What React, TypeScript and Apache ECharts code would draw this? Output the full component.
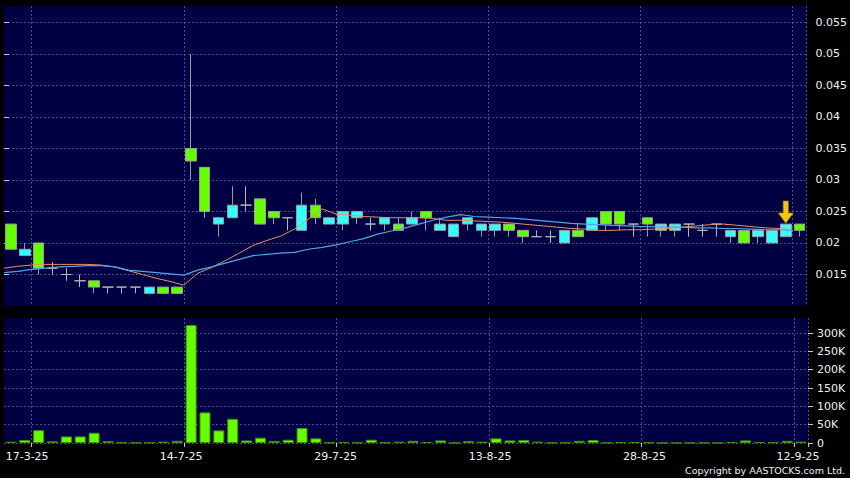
import React, { useEffect, useRef } from "react";
import * as echarts from "echarts";

const dates = [
  "12-3-25", "14-3-25", "17-3-25", "21-3-25", "28-3-25", "9-4-25", "24-4-25", "9-5-25", "23-5-25", "10-6-25",
  "20-6-25", "30-6-25", "8-7-25", "14-7-25", "15-7-25", "16-7-25", "17-7-25", "18-7-25", "21-7-25", "22-7-25",
  "23-7-25", "24-7-25", "25-7-25", "28-7-25", "29-7-25", "30-7-25", "31-7-25", "1-8-25", "4-8-25", "5-8-25",
  "6-8-25", "7-8-25", "8-8-25", "11-8-25", "12-8-25", "13-8-25", "14-8-25", "15-8-25", "18-8-25", "19-8-25",
  "20-8-25", "21-8-25", "22-8-25", "25-8-25", "26-8-25", "27-8-25", "28-8-25", "29-8-25", "1-9-25", "2-9-25",
  "3-9-25", "4-9-25", "5-9-25", "8-9-25", "9-9-25", "10-9-25", "11-9-25", "12-9-25",
];

const opens = [
  0.023, 0.018, 0.020, 0.016, 0.015, 0.014, 0.014, 0.013, 0.013, 0.013,
  0.012, 0.013, 0.013, 0.035, 0.032, 0.023, 0.024, 0.026, 0.027, 0.025,
  0.024, 0.022, 0.026, 0.023, 0.023, 0.024, 0.023, 0.023, 0.023, 0.023,
  0.025, 0.022, 0.021, 0.023, 0.022, 0.022, 0.023, 0.022, 0.021, 0.021,
  0.020, 0.022, 0.022, 0.025, 0.025, 0.023, 0.024, 0.022, 0.022, 0.023,
  0.022, 0.023, 0.021, 0.022, 0.021, 0.020, 0.021, 0.023,
];
const closes = [
  0.019, 0.019, 0.016, 0.016, 0.015, 0.014, 0.013, 0.013, 0.013, 0.013,
  0.013, 0.012, 0.012, 0.033, 0.025, 0.024, 0.026, 0.026, 0.023, 0.024,
  0.024, 0.026, 0.024, 0.024, 0.025, 0.025, 0.023, 0.024, 0.022, 0.024,
  0.024, 0.023, 0.023, 0.024, 0.023, 0.023, 0.022, 0.021, 0.021, 0.021,
  0.022, 0.021, 0.024, 0.023, 0.023, 0.023, 0.023, 0.023, 0.023, 0.023,
  0.022, 0.023, 0.022, 0.020, 0.022, 0.022, 0.023, 0.022,
];
const lows = [
  0.019, 0.018, 0.015, 0.015, 0.014, 0.013, 0.012, 0.012, 0.012, 0.012,
  0.012, 0.012, 0.012, 0.030, 0.024, 0.021, 0.024, 0.025, 0.023, 0.023,
  0.022, 0.022, 0.023, 0.023, 0.022, 0.023, 0.022, 0.022, 0.022, 0.023,
  0.022, 0.022, 0.021, 0.022, 0.021, 0.021, 0.021, 0.020, 0.021, 0.020,
  0.020, 0.021, 0.022, 0.022, 0.022, 0.021, 0.021, 0.021, 0.021, 0.021,
  0.021, 0.021, 0.020, 0.020, 0.020, 0.020, 0.021, 0.021,
];
const highs = [
  0.023, 0.020, 0.020, 0.017, 0.016, 0.015, 0.014, 0.013, 0.013, 0.013,
  0.013, 0.013, 0.013, 0.050, 0.032, 0.024, 0.029, 0.029, 0.027, 0.025,
  0.024, 0.028, 0.027, 0.024, 0.025, 0.025, 0.024, 0.024, 0.024, 0.025,
  0.025, 0.024, 0.023, 0.024, 0.023, 0.023, 0.023, 0.022, 0.022, 0.022,
  0.022, 0.023, 0.024, 0.025, 0.025, 0.023, 0.024, 0.023, 0.023, 0.023,
  0.023, 0.023, 0.022, 0.022, 0.022, 0.022, 0.023, 0.023,
];
const volumes = [
  3500, 8000, 35000, 4500, 18000, 18000, 28000, 5400, 1000, 1000,
  1500, 3600, 6000, 322000, 83600, 34500, 66000, 7000, 14500, 5400,
  9000, 41000, 12700, 1000, 2700, 1000, 9000, 1500, 3600, 6000,
  2700, 7000, 500, 5400, 3600, 12700, 7000, 8000, 3600, 1000,
  1000, 6000, 8000, 1000, 2500, 2500, 1500, 300, 300, 300,
  300, 300, 2700, 7000, 2700, 2000, 6000, 3600,
];
const maShort = [
  0.0160, 0.0163, 0.0165, 0.0166, 0.0166, 0.0166, 0.0166, 0.0165, 0.0162, 0.0156,
  0.0150, 0.0144, 0.0139, 0.0133, 0.0152, 0.0161, 0.0172, 0.0184, 0.0196, 0.0204,
  0.0211, 0.0222, 0.0238, 0.0254, 0.0246, 0.0244, 0.0242, 0.0241, 0.0240, 0.0240,
  0.0240, 0.0239, 0.0236, 0.0236, 0.0235, 0.0234, 0.0233, 0.0231, 0.0229, 0.0227,
  0.0225, 0.0223, 0.0222, 0.0220, 0.0220, 0.0221, 0.0221, 0.0222, 0.0223, 0.0225,
  0.0227, 0.0229, 0.0230, 0.0228, 0.0226, 0.0224, 0.0223, 0.0221,
];
const maLong = [
  0.0153, 0.0155, 0.0158, 0.0160, 0.0162, 0.0163, 0.0164, 0.0164, 0.0162, 0.0157,
  0.0155, 0.0153, 0.0151, 0.0149, 0.0157, 0.0162, 0.0168, 0.0174, 0.0180, 0.0182,
  0.0184, 0.0185, 0.0190, 0.0193, 0.0197, 0.0202, 0.0207, 0.0214, 0.0219, 0.0224,
  0.0230, 0.0236, 0.0241, 0.0245, 0.0242, 0.0241, 0.0240, 0.0239, 0.0237, 0.0235,
  0.0233, 0.0231, 0.0230, 0.0229, 0.0228, 0.0227, 0.0226, 0.0226, 0.0225, 0.0225,
  0.0224, 0.0224, 0.0223, 0.0223, 0.0222, 0.0221, 0.0221, 0.0220,
];
const priceTicks = [0.015, 0.02, 0.025, 0.03, 0.035, 0.04, 0.045, 0.05, 0.055];
const volumeTicks = [0, 50000, 100000, 150000, 200000, 250000, 300000];
const labelShift = [23, 20, 16, 12, 8, 6];
const arrowIndex = 56;
const copyright = "Copyright by AASTOCKS.com Ltd.";

const FONT = "DejaVu Sans";
const TEXT = "#f0f0f0";
const GRIDLINE = { color: "#4e4e86", type: [2, 2] as number[], width: 1 };
const PANEL = "#000042";

export default function App() {
  const ref = useRef<HTMLDivElement>(null);

  useEffect(() => {
    if (!ref.current) return;
    document.body.style.margin = "0";
    document.body.style.background = "#000";
    const chart = echarts.init(ref.current, undefined, { renderer: "svg" });

    const isMark = (i: number) => i % 11 === 2;
    const rich: Record<string, any> = {};
    labelShift.forEach((p, k) => {
      rich["s" + k] = { padding: [0, p, 0, 0], color: TEXT, fontSize: 11, fontFamily: FONT };
    });

    const option: any = {
      animation: false,
      backgroundColor: "#000",
      grid: [
        { left: 4, right: 42, top: 6, height: 300, show: true, backgroundColor: PANEL, borderWidth: 0 },
        { left: 4, right: 42, top: 318, height: 125, show: true, backgroundColor: PANEL, borderWidth: 0 },
      ],
      xAxis: [
        {
          type: "category", gridIndex: 0, data: dates, boundaryGap: true,
          axisLine: { show: false }, axisTick: { show: false }, axisLabel: { show: false },
          splitLine: { show: true, interval: isMark, lineStyle: GRIDLINE },
        },
        {
          type: "category", gridIndex: 1, data: dates, boundaryGap: true,
          axisLine: { show: false },
          axisTick: { show: true, interval: isMark, length: 4, lineStyle: { color: "#c8c8c8" } },
          axisLabel: {
            show: true, interval: isMark, color: TEXT, fontSize: 11, fontFamily: FONT, margin: 8,
            formatter: (v: string, i: number) => (isMark(i) ? `{s${Math.round((i - 2) / 11)}|${v}}` : ""),
            rich,
          },
          splitLine: { show: true, interval: isMark, lineStyle: GRIDLINE },
        },
        { type: "value", gridIndex: 0, min: 0, max: dates.length, show: false },
      ],
      yAxis: [
        {
          type: "value", gridIndex: 0, position: "right", min: 0.01, max: 0.0576, interval: 0.005,
          axisLine: { show: false },
          axisTick: { show: true, length: 5, lineStyle: { color: "#c8c8c8" }, customValues: priceTicks },
          axisLabel: { color: TEXT, fontSize: 11, fontFamily: FONT, margin: 9, customValues: priceTicks },
          splitLine: { show: true, lineStyle: GRIDLINE },
        },
        {
          type: "value", gridIndex: 1, position: "right", min: 0, max: 341000, interval: 50000,
          axisLine: { show: false },
          axisTick: { show: true, length: 5, lineStyle: { color: "#c8c8c8" }, customValues: volumeTicks },
          axisLabel: {
            color: TEXT, fontSize: 11, fontFamily: FONT, margin: 9, customValues: volumeTicks,
            formatter: (v: number) => (v === 0 ? "0" : v / 1000 + "K"),
          },
          splitLine: { show: true, lineStyle: GRIDLINE },
        },
      ],
      series: [
        {
          type: "candlestick", xAxisIndex: 0, yAxisIndex: 0, barWidth: 11,
          data: dates.map((_, i) => [opens[i], closes[i], lows[i], highs[i]]),
          itemStyle: {
            color: "#33ffff", color0: "#66ff00",
            borderColor: "#9c9c9c", borderColor0: "#9c9c9c", borderColorDoji: "#b8b8b8", borderWidth: 1,
          },
          markPoint: {
            symbol: "path://M5,0L10,0L10,12L15,12L7.5,22L0,12L5,12Z",
            symbolSize: [15, 22], symbolKeepAspect: false, symbolOffset: [0, -12],
            itemStyle: { color: "#f7c516", borderColor: "#c99400", borderWidth: 0.6 },
            label: { show: false },
            data: [{ coord: [dates[arrowIndex], highs[arrowIndex]] }],
          },
        },
        {
          type: "line", xAxisIndex: 2, yAxisIndex: 0, showSymbol: false, symbol: "none",
          data: maShort.map((v, i) => [i, v]),
          lineStyle: { color: "#e8905e", width: 1 },
        },
        {
          type: "line", xAxisIndex: 2, yAxisIndex: 0, showSymbol: false, symbol: "none",
          data: maLong.map((v, i) => [i, v]),
          lineStyle: { color: "#4ea6e6", width: 1.2 },
        },
        {
          type: "bar", xAxisIndex: 1, yAxisIndex: 1, barWidth: 11,
          data: volumes,
          itemStyle: { color: "#66ff00", borderColor: "#3a9000", borderWidth: 1 },
        },
      ],
      graphic: [
        {
          type: "text", right: 5, top: 465,
          style: { text: copyright, fill: TEXT, font: `9.5px "${FONT}"` },
        },
      ],
    };

    chart.setOption(option);
    return () => chart.dispose();
  }, []);

  return (
    <div
      ref={ref}
      style={{ position: "absolute", left: 0, top: 0, width: 850, height: 478, background: "#000" }}
    />
  );
}
